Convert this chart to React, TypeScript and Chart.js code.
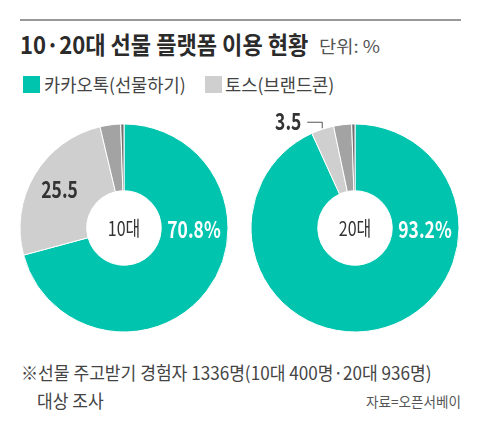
import { useEffect, useRef, type CSSProperties } from "react";
import { Chart, PieController, DoughnutController, ArcElement } from "chart.js";

Chart.register(PieController, DoughnutController, ArcElement);

const FONT = '"Noto Sans CJK KR", sans-serif';

const SLICES = ["카카오톡(선물하기)", "토스(브랜드콘)", "기타", "없음"];
const COLORS = ["#00c4ad", "#cfcfcf", "#a3a3a3", "#6f6f6f"];
const TEENS = [70.8, 25.5, 3.2, 0.5];
const TWENTIES = [93.2, 3.5, 2.8, 0.5];

// one draw-time plugin for centre text, slice labels and the 3.5 leader line
const labelsPlugin = {
  id: "sliceLabels",
  afterDraw(chart: any) {
    const c = chart.ctx;
    const opts = chart.options.plugins.sliceLabels;
    const arcs = chart.getDatasetMeta(0).data;
    const cx = arcs[0].x;
    const cy = arcs[0].y;
    const outer = arcs[0].outerRadius;

    const put = (text: string, x: number, y: number, font: string, color: string, sx: number) => {
      c.save();
      c.translate(x, y);
      c.scale(sx, 1);
      c.font = font;
      c.fillStyle = color;
      c.textAlign = "center";
      c.textBaseline = "middle";
      c.fillText(text, 0, 0);
      c.restore();
    };
    const pos = (arc: any, r: number) => {
      const mid = (arc.startAngle + arc.endAngle) / 2;
      return [cx + Math.cos(mid) * r, cy + Math.sin(mid) * r];
    };

    put(opts.center, cx, cy, `400 20px ${FONT}`, "#333333", 0.8);

    // the main share sits straight right of the hole in both pies
    put(opts.main, cx + 70, cy + 1, `700 23px ${FONT}`, "#ffffff", 0.76);

    if (opts.inside) {
      const [ix, iy] = pos(arcs[1], 75);
      put(opts.inside, ix, iy, `700 23px ${FONT}`, "#333333", 0.76);
    }

    if (opts.outside) {
      const [ex, ey] = pos(arcs[1], outer + 1);
      c.save();
      c.strokeStyle = "#555555";
      c.lineWidth = 1;
      c.beginPath();
      c.moveTo(ex, ey);
      c.lineTo(ex, ey - 6);
      c.lineTo(ex - 15, ey - 6);
      c.stroke();
      c.restore();
      put(opts.outside, ex - 34, ey - 7, `700 23px ${FONT}`, "#333333", 0.76);
    }
  },
};

function Donut({ values, left, labels }: { values: number[]; left: number; labels: any }) {
  const canvasRef = useRef<HTMLCanvasElement>(null);

  useEffect(() => {
    if (!canvasRef.current) return;
    const chart = new Chart(canvasRef.current, {
      type: "doughnut",
      data: {
        labels: SLICES,
        datasets: [{ data: values, backgroundColor: COLORS, borderColor: "#ffffff", borderWidth: 1 }],
      },
      options: {
        responsive: false,
        animation: false,
        radius: 104,
        cutout: 41,
        plugins: { sliceLabels: labels } as any,
      },
      plugins: [labelsPlugin],
    });
    return () => chart.destroy();
  }, []);

  return (
    <canvas
      ref={canvasRef}
      width={230}
      height={240}
      style={{ position: "absolute", left, top: 108, width: 230, height: 240 }}
    />
  );
}

function Text({ x, y, size, sx = 0.86, weight = 400, color = "#444444", children }: {
  x: number; y: number; size: number; sx?: number; weight?: number; color?: string; children: string;
}) {
  const style: CSSProperties = {
    position: "absolute",
    left: x,
    top: y,
    fontSize: size,
    fontWeight: weight,
    color,
    lineHeight: 1,
    whiteSpace: "nowrap",
    transform: `scaleX(${sx})`,
    transformOrigin: "0 0",
  };
  return <div style={style}>{children}</div>;
}

export default function App() {
  return (
    <div style={{ position: "absolute", left: 0, top: 0, width: 480, height: 428, background: "#fff", fontFamily: FONT, overflow: "hidden" }}>
      <div style={{ position: "absolute", left: 20, top: 19, width: 441, height: 2, background: "#999999" }} />
      <Text x={20} y={32} size={24} weight={700} sx={0.92} color="#2b2b2b">10·20대 선물 플랫폼 이용 현황</Text>
      <Text x={319} y={37} size={17} sx={1.1} color="#555555">단위: %</Text>

      <div style={{ position: "absolute", left: 23, top: 76, width: 17, height: 17, background: COLORS[0] }} />
      <Text x={44} y={75} size={18} sx={0.98}>{SLICES[0]}</Text>
      <div style={{ position: "absolute", left: 205, top: 76, width: 17, height: 17, background: COLORS[1] }} />
      <Text x={225} y={75} size={18} sx={0.98}>{SLICES[1]}</Text>

      <Donut values={TEENS} left={9} labels={{ center: "10대", main: "70.8%", inside: "25.5" }} />
      <Donut values={TWENTIES} left={240} labels={{ center: "20대", main: "93.2%", outside: "3.5" }} />

      <Text x={21} y={363} size={18} sx={0.95}>※선물 주고받기 경험자 1336명(10대 400명·20대 936명)</Text>
      <Text x={37} y={391} size={18} sx={0.95}>대상 조사</Text>
      <Text x={366} y={394} size={14} sx={0.97} color="#555555">자료=오픈서베이</Text>
    </div>
  );
}
